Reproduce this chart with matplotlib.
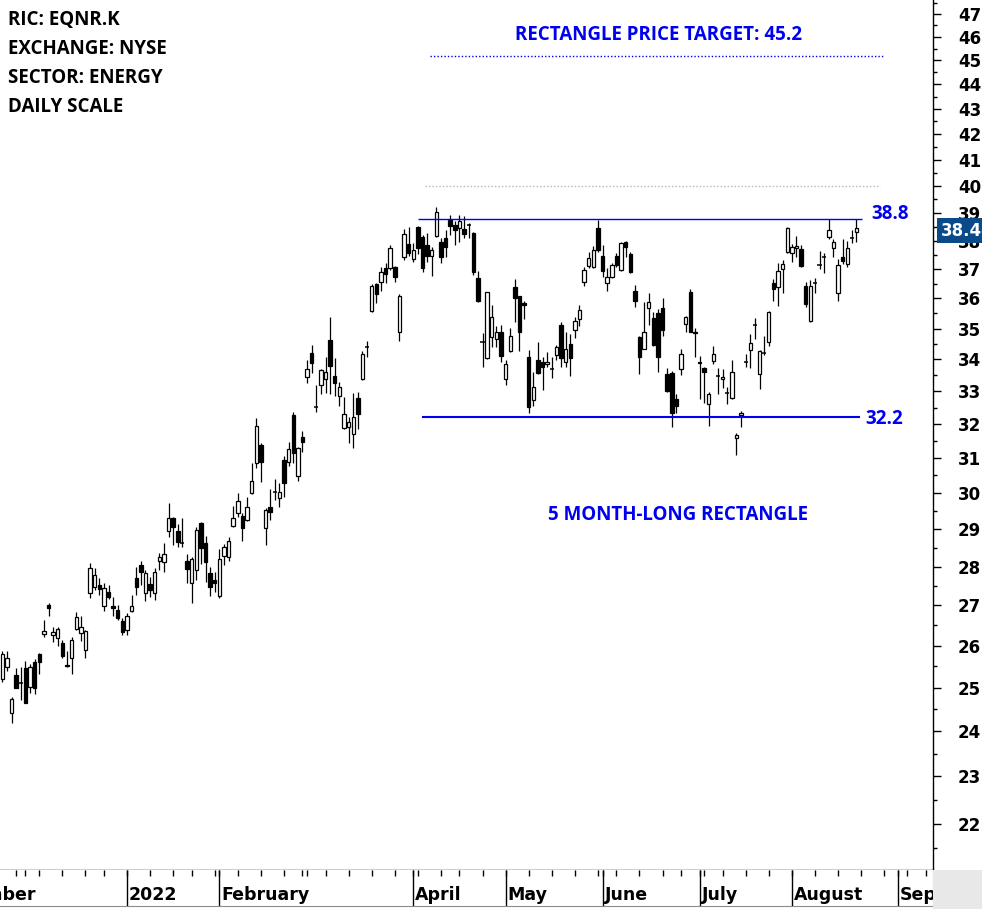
import matplotlib
matplotlib.use('Agg')
import matplotlib.pyplot as plt
import numpy as np
import pandas as pd
from matplotlib.ticker import FixedLocator, FixedFormatter, NullFormatter
from matplotlib.patches import Rectangle

# ---------------- data ----------------
holidays = ['2021-11-25', '2021-12-24', '2022-01-17', '2022-02-21', '2022-04-15',
            '2022-05-30', '2022-06-20', '2022-07-04', '2022-09-05']
start_date = '2021-11-23'

opens = [25.19, 25.48, 24.40, 25.29, 25.10, 25.45, 25.02, 25.60, 25.79, 26.29,
         27.00, 26.27, 26.20, 26.07, 25.53, 25.69, 26.41, 26.32, 25.90, 27.32,
         27.48, 27.51, 26.98, 27.35, 26.98, 26.88, 26.61,
         26.39, 26.85, 27.71, 28.03, 27.32, 27.56, 27.32, 28.16, 28.11, 28.95,
         29.31, 28.95, 28.63, 28.16, 27.58, 27.90, 29.17, 28.63, 27.82, 27.66,
         27.24, 28.29, 28.26, 29.08, 29.44, 29.36, 29.25, 30.00, 30.86, 31.38,
         29.03, 29.61, 30.03, 29.86, 30.94, 30.89, 32.27, 30.49, 31.62,
         33.44, 34.21, 32.52, 33.19, 33.38, 34.61, 33.48, 32.85, 31.88, 31.91,
         31.71, 32.79, 33.38, 34.39, 35.57, 36.48, 36.55, 37.04, 37.04, 37.07,
         34.87, 37.43, 37.89,
         37.36, 38.50, 38.14, 37.86, 37.46, 38.18, 37.96, 38.11, 38.75, 38.57,
         38.46, 38.43, 38.57, 38.29, 36.69, 34.55, 34.05, 34.71, 34.65, 34.87,
         33.38, 34.26, 36.38, 36.07, 35.84, 34.08, 32.73, 33.98, 33.92, 33.86,
         33.70, 34.14, 35.13, 33.92, 34.48, 34.94, 35.31, 36.55, 37.11, 37.07,
         38.46,
         37.46, 36.52, 36.72, 37.46, 36.97, 37.96, 37.54, 36.24, 34.71, 34.35,
         35.67, 35.34, 35.51, 35.67, 33.54, 33.57, 32.76, 33.70, 35.16, 36.21,
         34.90,
         33.92, 33.73, 32.61, 33.95, 33.48, 33.38, 32.94, 32.79, 31.59, 32.27,
         33.92, 34.29, 35.10, 33.54, 34.21, 34.55, 36.52, 36.38, 37.00, 37.61,
         37.57, 37.75, 37.71, 36.41, 35.25, 36.52, 37.14, 37.43, 38.14, 37.75,
         36.17, 37.43, 37.18, 38.11, 38.32]

highs = [25.86, 25.88, 24.79, 25.45, 25.48, 25.62, 25.55, 25.67, 25.83, 26.63,
         27.05, 26.46, 26.46, 26.15, 25.86, 26.22, 26.83, 26.73, 26.39, 28.10,
         27.97, 27.71, 27.58, 27.51, 27.21, 27.00, 26.68,
         26.80, 27.26, 28.00, 28.16, 27.92, 27.74, 27.97, 28.35, 28.63, 29.72,
         29.33, 29.14, 29.31, 28.34, 28.24, 29.06, 29.19, 28.82, 28.00, 27.87,
         28.47, 28.61, 28.79, 29.64, 30.00, 29.44, 29.89, 30.86, 32.18, 31.44,
         29.58, 30.11, 30.40, 30.29, 31.06, 31.47, 32.36, 31.32, 31.79,
         33.98, 34.47, 33.21, 33.70, 34.08, 35.38, 34.05, 33.29, 32.82, 32.21,
         32.94, 32.97, 34.27, 34.58, 36.48, 36.52, 37.07, 37.21, 37.86, 37.10,
         36.14, 38.43, 38.50,
         37.93, 38.54, 38.21, 38.29, 37.79, 39.23, 38.11, 38.39, 38.93, 38.71,
         38.93, 38.89, 38.64, 38.31, 36.93, 34.84, 36.23, 35.77, 35.07, 35.13,
         33.98, 35.03, 36.66, 36.10, 35.93, 34.30, 33.60, 34.55, 34.08, 34.24,
         34.08, 34.45, 35.21, 34.87, 34.81, 35.38, 35.77, 37.07, 37.61, 37.82,
         38.75,
         37.86, 37.04, 37.21, 37.57, 37.96, 37.98, 37.61, 36.45, 34.74, 35.87,
         36.17, 35.54, 35.64, 36.00, 33.73, 33.63, 32.91, 34.35, 35.41, 36.31,
         35.03,
         34.11, 33.76, 32.97, 34.42, 33.73, 33.70, 33.13, 33.98, 31.74, 32.39,
         34.18, 34.81, 35.34, 34.30, 34.74, 35.57, 36.66, 37.21, 37.32, 38.50,
         37.89, 38.18, 37.86, 36.55, 36.62, 36.69, 37.64, 37.57, 38.79, 38.07,
         37.36, 38.07, 38.00, 38.39, 38.79]

lows = [25.14, 25.40, 24.19, 24.98, 24.72, 24.63, 24.88, 24.84, 25.31, 26.22,
        26.73, 26.10, 25.98, 25.71, 25.48, 25.31, 26.39, 26.12, 25.69, 27.19,
        27.40, 27.26, 26.85, 27.16, 26.73, 26.63, 26.27,
        26.27, 26.83, 27.26, 27.53, 27.10, 27.21, 27.13, 27.92, 27.87, 28.79,
        28.58, 28.53, 28.53, 27.58, 27.05, 27.66, 28.08, 27.61, 27.24, 27.35,
        27.19, 28.05, 28.16, 29.06, 29.33, 28.68, 29.22, 29.98, 30.71, 30.31,
        28.58, 29.25, 29.81, 29.61, 29.89, 30.77, 30.86, 30.34, 31.18,
        33.25, 33.57, 32.36, 32.91, 32.94, 32.91, 32.85, 32.55, 31.85, 31.44,
        31.29, 31.85, 33.35, 34.08, 35.55, 35.84, 36.24, 36.52, 36.97, 36.55,
        34.58, 37.32, 37.46,
        37.25, 37.54, 36.90, 37.25, 36.76, 38.14, 37.21, 37.43, 38.21, 37.86,
        37.96, 38.11, 38.11, 36.79, 35.87, 33.76, 34.02, 34.39, 34.39, 33.92,
        33.19, 34.23, 35.21, 34.26, 35.31, 32.33, 32.55, 33.55, 33.03, 33.76,
        33.41, 33.98, 33.76, 33.76, 33.48, 34.68, 35.07, 36.41, 37.04, 37.05,
        37.61,
        36.72, 36.24, 36.69, 37.07, 36.93, 37.43, 36.86, 35.70, 33.54, 34.32,
        35.10, 34.42, 33.60, 34.77, 32.97, 31.91, 32.33, 33.51, 34.87, 34.87,
        34.08,
        32.76, 32.64, 31.94, 33.86, 32.91, 33.10, 32.61, 32.76, 31.09, 31.91,
        33.76, 33.73, 34.65, 33.06, 34.14, 34.42, 35.90, 35.74, 36.17, 37.57,
        37.25, 37.43, 37.09, 35.70, 35.23, 36.17, 37.00, 36.86, 38.07, 37.43,
        35.90, 37.18, 37.07, 37.93, 37.96]

closes = [25.79, 25.71, 24.74, 25.00, 25.10, 24.65, 25.48, 25.00, 25.60, 26.37,
          26.93, 26.34, 26.41, 25.76, 25.52, 26.15, 26.71, 26.46, 26.37, 27.97,
          27.79, 27.43, 27.45, 27.21, 26.93, 26.68, 26.34,
          26.73, 26.98, 27.48, 27.87, 27.84, 27.38, 27.87, 28.24, 28.32, 29.31,
          29.06, 28.66, 28.63, 27.95, 28.21, 28.97, 28.50, 28.11, 27.48, 27.58,
          28.21, 28.53, 28.68, 29.31, 29.78, 29.03, 29.61, 30.34, 31.94, 30.89,
          29.53, 29.47, 30.03, 30.03, 30.29, 31.26, 31.15, 31.29, 31.47,
          33.70, 33.89, 32.52, 33.67, 33.60, 33.79, 33.25, 33.13, 32.30, 32.06,
          32.21, 32.30, 34.18, 34.39, 36.41, 36.14, 36.90, 36.83, 37.75, 36.72,
          36.10, 38.25, 37.57,
          37.68, 37.75, 37.04, 37.46, 37.68, 39.04, 37.43, 37.79, 38.54, 38.39,
          38.71, 38.25, 38.57, 36.90, 35.93, 34.55, 36.21, 35.38, 34.90, 34.11,
          33.86, 34.74, 36.03, 34.87, 35.77, 32.52, 33.13, 33.57, 33.76, 33.92,
          33.70, 34.39, 34.05, 34.35, 34.05, 35.25, 35.61, 36.97, 37.39, 37.68,
          37.68,
          36.93, 36.72, 37.14, 37.14, 37.93, 37.79, 36.90, 35.93, 34.08, 34.87,
          35.87, 34.45, 34.08, 34.94, 33.00, 32.33, 32.55, 34.18, 35.38, 34.90,
          34.84,
          33.89, 33.60, 32.91, 34.18, 33.48, 33.44, 32.94, 33.60, 31.68, 32.33,
          33.92, 34.52, 35.10, 34.27, 34.21, 35.54, 36.31, 36.93, 37.18, 38.46,
          37.79, 37.82, 37.11, 35.80, 36.41, 36.52, 37.14, 37.43, 38.39, 37.96,
          37.14, 37.29, 37.75, 38.11, 38.44]

last_price = 38.44
rect_top = 38.8
rect_bottom = 32.2
price_target = 45.2
grey_level = 40.0

header_lines = ['RIC: EQNR.K', 'EXCHANGE: NYSE', 'SECTOR: ENERGY', 'DAILY SCALE']
month_keys = ['2022-01', '2022-02', '2022-04', '2022-05', '2022-06', '2022-07', '2022-08', '2022-09']
month_labels = ['2022', 'February', 'April', 'May', 'June', 'July', 'August', 'Sep']
first_label = 'December'
ytick_values = list(range(22, 48))

# ---------------- trading-day axis ----------------
days = pd.bdate_range('2021-11-01', '2022-09-30', freq='C', holidays=holidays)
ref = days.get_loc(pd.Timestamp('2022-01-03'))
pos_all = np.arange(len(days)) - ref
s0 = days.get_loc(pd.Timestamp(start_date))
n = len(closes)
x = pos_all[s0:s0 + n].astype(float)

O = np.array(opens); Hh = np.array(highs); L = np.array(lows); C = np.array(closes)

W, Hpx = 982, 909
fig = plt.figure(figsize=(W / 100, Hpx / 100), dpi=100)
fig.patch.set_facecolor('white')

ax = fig.add_axes([0, 39 / Hpx, 933 / W, 870 / Hpx])
ax.set_facecolor('white')
ax.set_yscale('log')
ax.set_xlim(-27.51, 174.57)
ax.set_ylim(21.07, 47.62)

# candles
ax.vlines(x, L, Hh, color='black', lw=0.9, zorder=2)
up = C > O
dn = C < O
dj = C == O
ax.bar(x[up], (C - O)[up], bottom=O[up], width=0.74, color='white',
       edgecolor='black', linewidth=0.9, zorder=3)
ax.bar(x[dn], (O - C)[dn], bottom=C[dn], width=0.74, color='black',
       edgecolor='black', linewidth=0.9, zorder=3)
ax.hlines(O[dj], x[dj] - 0.45, x[dj] + 0.45, color='black', lw=1.1, zorder=3)

# pattern lines
blue = '#0000f0'
ax.hlines(rect_top, 63.0, 159.2, color=blue, lw=1.0, zorder=4)
ax.hlines(rect_bottom, 63.9, 158.8, color=blue, lw=1.5, zorder=4)
ax.hlines(price_target, 65.6, 164.0, color=blue, lw=1.0, linestyles=(0, (1, 1.5)), zorder=4)
ax.hlines(grey_level, 64.5, 163.0, color='#b8b8b8', lw=1.0, linestyles=(0, (1, 1.5)), zorder=1)

# y axis on the right
ax.yaxis.tick_right()
ax.yaxis.set_major_locator(FixedLocator(ytick_values))
ax.yaxis.set_major_formatter(FixedFormatter([str(v) for v in ytick_values]))
ax.yaxis.set_minor_locator(FixedLocator([v + 0.5 for v in range(21, 48)]))
ax.yaxis.set_minor_formatter(NullFormatter())
ax.tick_params(axis='y', which='major', direction='out', length=6, width=1,
               pad=12, labelsize=12, colors='black')
ax.tick_params(axis='y', which='minor', direction='out', length=3, width=1)
for lbl in ax.get_yticklabels():
    lbl.set_fontweight('bold')
    lbl.set_family('DejaVu Sans')
ax.set_xticks([])
for sp in ['left', 'top']:
    ax.spines[sp].set_visible(False)
ax.spines['right'].set_color('black')
ax.spines['right'].set_linewidth(1)
ax.spines['bottom'].set_color('black')
ax.spines['bottom'].set_linewidth(1)

# ---------------- date strip ----------------
sx = fig.add_axes([0, 3 / Hpx, 933 / W, 36 / Hpx])
sx.set_xlim(ax.get_xlim())
sx.set_ylim(0, 1)
sx.set_xticks([]); sx.set_yticks([])
sx.spines['top'].set_visible(False)
sx.spines['left'].set_visible(False)
sx.spines['bottom'].set_color('#8c8c8c')
sx.spines['right'].set_color('#8c8c8c')

mondays = days - pd.to_timedelta(days.weekday, unit='D')
week_first = ~pd.Series(mondays).duplicated().values
mper = days.to_period('M')
month_first = ~pd.Series(mper).duplicated().values
tick_pos = pos_all[week_first | month_first]
sx.vlines(tick_pos, 1 - 6 / 36, 1, color='black', lw=1)

for key, lab in zip(month_keys, month_labels):
    p = pos_all[(mper == pd.Period(key, 'M')) & month_first][0]
    sx.vlines(p, 0, 1, color='black', lw=1)
    sx.text(p + 0.45, 0.31, lab, fontsize=12.5, fontweight='bold', family='DejaVu Sans',
            ha='left', va='center', color='black', clip_on=True)
pdec = pos_all[(mper == pd.Period('2021-12', 'M')) & month_first][0]
sx.text(pdec + 2.3, 0.31, first_label, fontsize=12.5, fontweight='bold', family='DejaVu Sans',
        ha='right', va='center', color='black', clip_on=True)

# grey corner
fig.patches.append(Rectangle((933 / W, 0), 49 / W, 39 / Hpx, transform=fig.transFigure,
                             facecolor='#e8e8e8', edgecolor='none', zorder=0))

# ---------------- texts ----------------
def fx(px):
    return px / W


def fy(py):
    return 1 - py / Hpx

for k, t in enumerate(header_lines):
    fig.text(fx(8), fy(20 + 29 * k), t, fontsize=13.5, fontweight='bold',
             family='Open Sans', ha='left', va='center', color='black')

fig.text(fx(659), fy(35), 'RECTANGLE PRICE TARGET: 45.2', fontsize=13.5, fontweight='bold',
         family='Open Sans', ha='center', va='center', color=blue)
fig.text(fx(678), fy(515), '5 MONTH-LONG RECTANGLE', fontsize=13.5, fontweight='bold',
         family='Open Sans', ha='center', va='center', color=blue)
fig.text(fx(871), fy(214), '38.8', fontsize=13.5, fontweight='bold',
         family='Open Sans', ha='left', va='center', color=blue)
fig.text(fx(865), fy(419), '32.2', fontsize=13.5, fontweight='bold',
         family='Open Sans', ha='left', va='center', color=blue)

fig.text(fx(941), fy(230.5), f'{last_price:.2f}', fontsize=12, fontweight='bold',
         family='DejaVu Sans', ha='left', va='center', color='white', zorder=10,
         bbox=dict(boxstyle='square,pad=0.22', facecolor='#0b4a89', edgecolor='none'))

fig.savefig('out.png', dpi=100, facecolor='white')
